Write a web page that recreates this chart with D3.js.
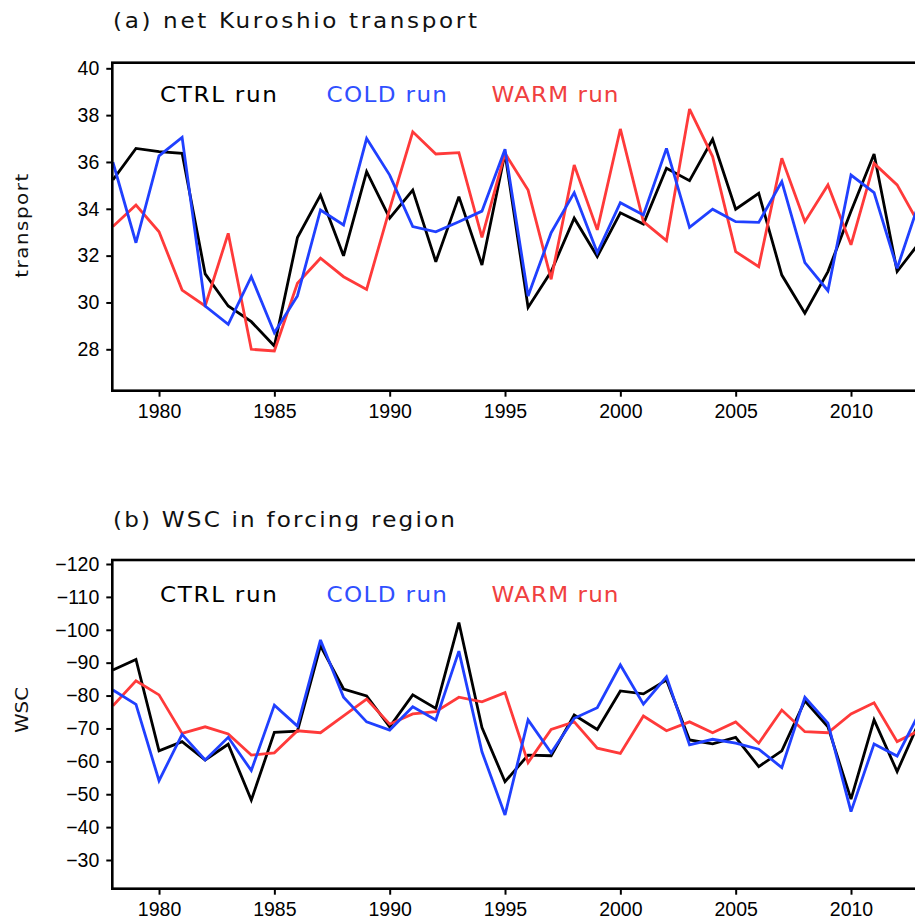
<!DOCTYPE html>
<html>
<head>
<meta charset="utf-8">
<script src="https://cdn.jsdelivr.net/npm/d3@7"></script>
<style>
  html, body { margin: 0; padding: 0; background: #fff; overflow: hidden; }
  svg { display: block; }
  .tick text { font-family: "Liberation Sans", Arial, sans-serif; font-size: 19.5px; fill: #000; }
  .tick line { stroke: #000; stroke-width: 2; }
  .lbl { font-family: "DejaVu Sans", sans-serif; font-size: 21px; fill: #111; }
  .ylab { font-family: "DejaVu Sans", sans-serif; font-size: 18px; fill: #111; }
</style>
</head>
<body>
<svg id="chart" width="915" height="919"></svg>
<script>
// Years of the annual series
const years = d3.range(1978, 2014);

// (a) net Kuroshio transport
const ctrlTransport = [35.23, 36.58, 36.44, 36.37, 31.22, 29.85, 29.18, 28.14, 32.77, 34.59, 31.99, 35.59,
  33.6, 34.8, 31.74, 34.52, 31.6, 36.37, 29.79, 31.32, 33.6, 31.96, 33.83, 33.35, 35.73, 35.2, 36.97,
  33.98, 34.66, 31.17, 29.54, 31.32, 33.9, 36.34, 31.32, 32.6];
const coldTransport = [35.99, 32.55, 36.26, 37.05, 29.85, 29.07, 31.1, 28.71, 30.28, 33.95, 33.31, 37.0,
  35.44, 33.24, 33.02, 33.45, 33.9, 36.54, 30.28, 32.98, 34.69, 32.13, 34.26, 33.74, 36.58, 33.21, 33.98,
  33.45, 33.42, 35.16, 31.7, 30.5, 35.44, 34.69, 31.46, 34.4];
const warmTransport = [33.24, 34.16, 33.02, 30.53, 29.85, 32.95, 28.0, 27.93, 30.82, 31.89, 31.1, 30.56,
  34.0, 37.29, 36.34, 36.4, 32.78, 36.37, 34.8, 30.99, 35.87, 33.1, 37.41, 33.45, 32.64, 38.26, 36.23,
  32.17, 31.53, 36.16, 33.45, 35.02, 32.46, 35.94, 35.02, 33.26];

// (b) wind stress curl in the forcing region
const ctrlWsc = [-87.8, -91.0, -63.2, -66.0, -60.4, -65.2, -48.2, -68.8, -69.2, -95.1, -82.0, -79.9,
  -70.5, -80.2, -76.1, -102.2, -70.3, -53.8, -61.9, -61.7, -74.1, -69.7, -81.4, -80.5, -84.7, -66.5,
  -65.3, -67.3, -58.4, -63.2, -78.4, -70.5, -48.5, -72.6, -56.9, -72.7];
const coldWsc = [-81.7, -77.3, -54.1, -68.2, -60.4, -67.3, -57.2, -77.1, -70.7, -96.9, -79.5, -72.0,
  -69.5, -76.6, -72.6, -93.5, -62.9, -43.7, -72.6, -62.6, -73.1, -76.3, -89.3, -77.4, -85.7, -65.0,
  -66.7, -65.5, -63.7, -58.1, -79.5, -71.6, -44.7, -65.3, -61.6, -75.2];
const warmWsc = [-76.9, -84.5, -80.2, -68.5, -70.5, -68.3, -61.9, -62.6, -69.3, -68.7, -73.8, -78.9,
  -71.3, -74.4, -75.1, -79.5, -78.1, -80.9, -59.6, -69.7, -72.0, -64.0, -62.4, -73.8, -69.3, -72.0,
  -68.7, -72.0, -65.5, -75.6, -69.0, -68.7, -74.4, -77.8, -66.0, -69.5];

// Tick values
const yearTicks = [1980, 1985, 1990, 1995, 2000, 2005, 2010];
const transportTicks = [28, 30, 32, 34, 36, 38, 40];
const wscTicks = [-120, -110, -100, -90, -80, -70, -60, -50, -40, -30];

// Run names and colours
const runNames = ["CTRL run", "COLD run", "WARM run"];
const runColors = ["#000000", "#2040ff", "#ff3a3a"];
const legendColors = ["#000000", "#3050ff", "#f04040"];

const svg = d3.select("#chart");
svg.append("rect").attr("width", 915).attr("height", 919).attr("fill", "#fff");

const left = 112.3, right = 960;
const widen = 1.1; // horizontal stretch for the wide lettering
const x = d3.scaleLinear().domain([1978, 2013]).range([112.9, 920.2]);

// Horizontally stretched, letter-spaced label spanning a given width
function wideText(g, cls, x0, y0, width, str, color) {
  const t = g.append("text").attr("class", cls)
    .attr("transform", `translate(${x0},${y0}) scale(${widen},1)`)
    .attr("textLength", width / widen).attr("lengthAdjust", "spacing")
    .text(str);
  if (color) t.style("fill", color);
  return t;
}

function panel(cfg) {
  const g = svg.append("g");
  const y = d3.scaleLinear().domain(cfg.domain).range(cfg.range);
  const clipId = "clip-" + cfg.key;
  g.append("clipPath").attr("id", clipId)
    .append("rect").attr("x", left).attr("y", cfg.top)
    .attr("width", right - left).attr("height", cfg.bottom - cfg.top);

  // Title
  wideText(g, "lbl", 113, cfg.titleY, cfg.titleLen, cfg.title);

  // Y axis label
  const yl = g.append("text").attr("class", "ylab")
    .attr("transform", `translate(28,${cfg.ylabY}) rotate(-90) scale(${widen},1)`)
    .attr("text-anchor", "middle")
    .text(cfg.ylab);
  if (cfg.ylabLen) yl.attr("textLength", cfg.ylabLen / widen).attr("lengthAdjust", "spacing");

  // Series lines
  const lines = g.append("g").attr("clip-path", `url(#${clipId})`);
  const line = d3.line().x((d, i) => x(years[i])).y(d => y(d));
  [0, 2, 1].forEach(k => {
    lines.append("path").datum(cfg.series[k])
      .attr("d", line).attr("fill", "none")
      .attr("stroke", runColors[k]).attr("stroke-width", 2.8)
      .attr("stroke-linejoin", "miter").attr("stroke-miterlimit", 3);
  });

  // Legend
  const legX = [160, 326.5, 491.5], legLen = [117, 120.5, 127];
  runNames.forEach((n, k) => {
    wideText(g, "lbl", legX[k], cfg.legY, legLen[k], n, legendColors[k]);
  });

  // Frame
  g.append("rect").attr("x", left).attr("y", cfg.top)
    .attr("width", right - left).attr("height", cfg.bottom - cfg.top)
    .attr("fill", "none").attr("stroke", "#000").attr("stroke-width", 2.6);

  // Axes
  const ya = g.append("g").attr("transform", `translate(${left},0)`)
    .call(d3.axisLeft(y).tickValues(cfg.ticks).tickFormat(d3.format("d")).tickSize(6).tickPadding(7));
  ya.select(".domain").remove();

  const xa = g.append("g").attr("transform", `translate(0,${cfg.bottom})`)
    .call(d3.axisBottom(x).tickValues(yearTicks).tickFormat(d3.format("d")).tickSize(6).tickPadding(7));
  xa.select(".domain").remove();
}

panel({
  key: "a", title: "(a) net Kuroshio transport", titleY: 28.3, titleLen: 364,
  ylab: "transport", ylabY: 225.8, ylabLen: 104,
  domain: [28, 40], range: [349.3, 68.3], top: 62.7, bottom: 390.7,
  ticks: transportTicks, legY: 102.3,
  series: [ctrlTransport, coldTransport, warmTransport]
});

panel({
  key: "b", title: "(b) WSC in forcing region", titleY: 526.7, titleLen: 342,
  ylab: "WSC", ylabY: 710, ylabLen: null,
  domain: [-30, -120], range: [860, 564], top: 560, bottom: 888.7,
  ticks: wscTicks, legY: 601.7,
  series: [ctrlWsc, coldWsc, warmWsc]
});
</script>
</body>
</html>
